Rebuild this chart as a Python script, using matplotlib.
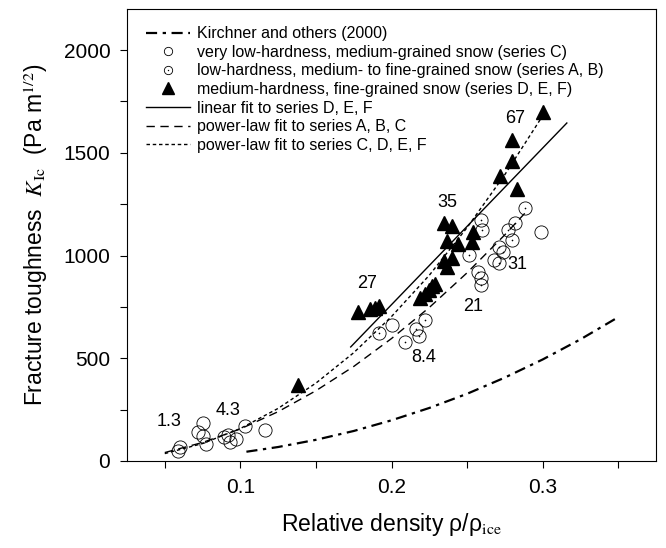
import matplotlib.pyplot as plt
from matplotlib.lines import Line2D
from matplotlib.ticker import MultipleLocator

plt.rcParams['font.family'] = ['Liberation Sans', 'DejaVu Sans']
plt.rcParams['mathtext.fontset'] = 'stix'

# series C (very low-hardness), plain circles
c_x = [0.059, 0.060, 0.072, 0.075, 0.075, 0.077, 0.089, 0.092, 0.093, 0.097, 0.103, 0.116,
       0.200, 0.268, 0.299]
c_y = [50, 66, 140, 185, 120, 82, 115, 127, 90, 105, 168, 150,
       660, 978, 1114]

# series A, B (low-hardness), circles with a dot
ab_x = [0.192, 0.209, 0.216, 0.218, 0.222, 0.251, 0.257, 0.259, 0.259, 0.260, 0.259,
        0.271, 0.271, 0.274, 0.277, 0.280, 0.282, 0.288]
ab_y = [623, 580, 640, 610, 688, 1002, 920, 890, 856, 1124, 1173,
        963, 1041, 1017, 1124, 1075, 1158, 1231]

# series D, E, F (medium-hardness), triangles
def_x = [0.138, 0.178, 0.186, 0.189, 0.192, 0.219, 0.222, 0.225, 0.227, 0.229,
         0.235, 0.240, 0.237, 0.237, 0.244, 0.253, 0.235, 0.240, 0.254,
         0.272, 0.280, 0.280, 0.283, 0.300]
def_y = [370, 725, 740, 745, 752, 795, 815, 832, 850, 862,
         975, 988, 945, 1070, 1055, 1068, 1160, 1143, 1114,
         1385, 1462, 1560, 1322, 1700]

# curves
kir_x = [0.104, 0.125, 0.15, 0.175, 0.2, 0.225, 0.25, 0.275, 0.3, 0.325, 0.35]
kir_y = [45, 68, 103, 146, 198, 258, 327, 406, 494, 592, 700]

lin_x = [0.173, 0.316]
lin_y = [555, 1645]

pabc_x = [0.05, 0.075, 0.1, 0.125, 0.15, 0.175, 0.2, 0.225, 0.25, 0.275, 0.29]
pabc_y = [41, 90, 156, 240, 342, 460, 596, 747, 916, 1101, 1220]

pcdef_x = [0.05, 0.075, 0.1, 0.125, 0.15, 0.175, 0.2, 0.225, 0.25, 0.275, 0.3]
pcdef_y = [36, 85, 158, 256, 379, 527, 703, 904, 1136, 1394, 1680]

# numbers written next to the point groups
note_txt = ['1.3', '4.3', '27', '8.4', '21', '31', '35', '67']
note_x = [0.053, 0.092, 0.184, 0.221, 0.254, 0.283, 0.237, 0.282]
note_y = [190, 248, 866, 506, 750, 954, 1260, 1669]

fig = plt.figure(figsize=(6.66, 5.48), dpi=100)
ax = fig.add_axes([0.1907, 0.1588, 0.7943, 0.8248])

ax.plot(kir_x, kir_y, color='black', lw=1.6, dashes=(5, 2.5, 1.5, 2.5))
ax.plot(lin_x, lin_y, color='black', lw=1.0)
ax.plot(pabc_x, pabc_y, color='black', lw=1.0, dashes=(6, 4))
ax.plot(pcdef_x, pcdef_y, color='black', lw=1.0, dashes=(2.5, 2))

ax.plot(c_x, c_y, 'o', ms=9.5, mfc='none', mec='black', mew=0.6)
ax.plot(ab_x, ab_y, 'o', ms=9.5, mfc='none', mec='black', mew=0.6)
ax.plot(ab_x, ab_y, 'o', ms=1.2, mfc='black', mec='black', mew=0)
ax.plot(def_x, def_y, '^', ms=10, color='black')

for t, x, y in zip(note_txt, note_x, note_y):
    ax.text(x, y, t, fontsize=13, ha='center', va='center')

h_kir = Line2D([], [], color='black', lw=1.6, dashes=(5, 2.5, 1.5, 2.5))
h_c = Line2D([], [], ls='none', marker='o', ms=6, mfc='none', mec='black', mew=0.6)
h_ab1 = Line2D([], [], ls='none', marker='o', ms=6, mfc='none', mec='black', mew=0.6)
h_ab2 = Line2D([], [], ls='none', marker='o', ms=1, mfc='black', mec='black', mew=0)
h_def = Line2D([], [], ls='none', marker='^', ms=8, color='black')
h_lin = Line2D([], [], color='black', lw=1.0)
h_pabc = Line2D([], [], color='black', lw=1.0, dashes=(6, 4))
h_pcdef = Line2D([], [], color='black', lw=1.0, dashes=(2.5, 2))

leg = ax.legend([h_kir, h_c, (h_ab1, h_ab2), h_def, h_lin, h_pabc, h_pcdef],
                ['Kirchner and others (2000)',
                 'very low-hardness, medium-grained snow (series C)',
                 'low-hardness, medium- to fine-grained snow (series A, B)',
                 'medium-hardness, fine-grained snow (series D, E, F)',
                 'linear fit to series D, E, F',
                 'power-law fit to series A, B, C',
                 'power-law fit to series C, D, E, F'],
                loc='upper left', bbox_to_anchor=(0.035, 0.962), frameon=False,
                fontsize=11.5, handlelength=2.8, handletextpad=0.4,
                labelspacing=0.225, borderpad=0, borderaxespad=0)

ax.set_xlim(0.025, 0.375)
ax.set_ylim(0, 2200)
ax.xaxis.set_major_locator(MultipleLocator(0.1))
ax.xaxis.set_minor_locator(MultipleLocator(0.05))
ax.yaxis.set_major_locator(MultipleLocator(500))
ax.yaxis.set_minor_locator(MultipleLocator(250))
ax.tick_params(which='both', direction='out', top=False, right=False, width=0.8)
ax.tick_params(which='major', length=5, pad=7, labelsize=15)
ax.tick_params(which='minor', length=5)
ax.set_xticklabels(['%g' % v for v in ax.get_xticks()])
for s in ax.spines.values():
    s.set_linewidth(0.8)

ax.set_xlabel('Relative density ρ/ρ$_{\\mathrm{ice}}$', fontsize=16.5, labelpad=10)
ax.set_ylabel(r'Fracture toughness  $K_{\mathrm{Ic}}$  (Pa m$^{1/2}$)', fontsize=16.5, labelpad=10)

fig.savefig('out.png', dpi=100)
